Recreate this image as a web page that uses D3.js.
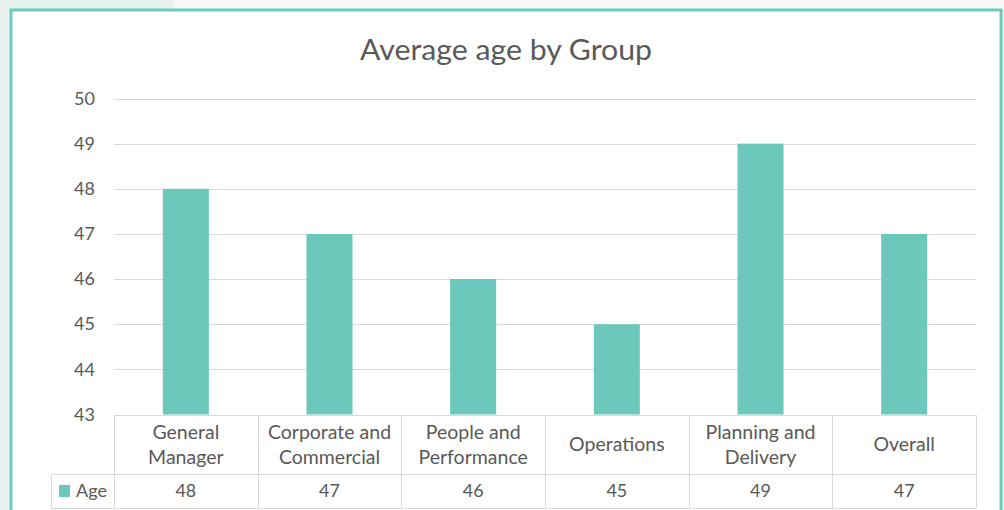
<!DOCTYPE html>
<html><head><meta charset="utf-8">
<script src="https://cdn.jsdelivr.net/npm/d3@7"></script>
<style>
html,body{margin:0;padding:0;background:#f8f8f8;}
svg{display:block;}
</style></head>
<body>
<script>
const categories = [["General","Manager"],["Corporate and","Commercial"],["People and","Performance"],["Operations"],["Planning and","Delivery"],["Overall"]];
const ages = [48, 47, 46, 45, 49, 47];
const seriesName = "Age";
const yTicks = [43, 44, 45, 46, 47, 48, 49, 50];
const title = "Average age by Group";

(function(){
const W = 1004, H = 510;
const font = "Lato, 'Open Sans', sans-serif";
const fs = 18;
const fsCat = 19.5;
const textColor = "#595959";
const barColor = "#6cc8ba";
const svg = d3.select("body").append("svg").attr("width", W).attr("height", H);

svg.append("rect").attr("x",0).attr("y",0).attr("width",W).attr("height",H).attr("fill","#f8f8f8");
svg.append("rect").attr("x",0).attr("y",0).attr("width",174).attr("height",H).attr("fill","#e6f3f0");
svg.append("rect").attr("x",0).attr("y",10).attr("width",W).attr("height",H).attr("fill","#e6f3f0");
svg.append("rect").attr("x",11).attr("y",10).attr("width",990).attr("height",H).attr("fill","#ffffff")
  .attr("stroke","#6ecbbc").attr("stroke-width",3);

const pLeft = 114, pRight = 976, pTop = 98.5, pBottom = 414.5;
const x = d3.scaleBand().domain(d3.range(categories.length)).range([pLeft, pRight]).paddingInner(0).paddingOuter(0);
const y = d3.scaleLinear().domain([43, 50]).range([pBottom, pTop]);

// gridlines
svg.append("g").selectAll("line").data(yTicks).join("line")
  .attr("x1", pLeft).attr("x2", pRight)
  .attr("y1", d => Math.round(y(d))+0.5).attr("y2", d => Math.round(y(d))+0.5)
  .attr("stroke", "#d9d9d9").attr("stroke-width", 1);

// y axis labels
const yAxis = d3.axisLeft(y).tickValues(yTicks).tickFormat(d3.format("d")).tickSize(0).tickPadding(0);
const ya = svg.append("g").attr("transform", `translate(${95},0)`).call(yAxis);
ya.select(".domain").remove();
ya.selectAll("text").attr("font-family", font).attr("font-size", fs).attr("fill", textColor);

// bars
const bw = 46;
svg.append("g").selectAll("rect").data(ages).join("rect")
  .attr("x", (d,i) => x(i) + x.bandwidth()/2 - bw/2)
  .attr("width", bw)
  .attr("y", d => y(d))
  .attr("height", d => y(43) - y(d))
  .attr("fill", barColor);

// title
svg.append("text").attr("x", 506).attr("y", 60).attr("text-anchor","middle")
  .attr("font-family", font).attr("font-size", 29).attr("fill", textColor)
  .attr("textLength", 292).attr("lengthAdjust","spacingAndGlyphs")
  .text(title);

// data table
const tTop = 415, tMid = 474, tBot = 508, tLeft = 51;
const g = svg.append("g").attr("stroke", "#d9d9d9").attr("stroke-width", 1).attr("shape-rendering","crispEdges");
g.append("line").attr("x1", pLeft).attr("x2", pRight).attr("y1", tTop).attr("y2", tTop);
g.append("line").attr("x1", tLeft).attr("x2", pRight).attr("y1", tMid).attr("y2", tMid);
g.append("line").attr("x1", tLeft).attr("x2", pRight).attr("y1", tBot).attr("y2", tBot);
g.append("line").attr("x1", tLeft).attr("x2", tLeft).attr("y1", tMid).attr("y2", tBot);
const vlines = d3.range(categories.length + 1).map(i => i < categories.length ? x(i) : pRight);
g.selectAll(".v").data(vlines).join("line").attr("class","v")
  .attr("x1", d => Math.round(d)).attr("x2", d => Math.round(d)).attr("y1", tTop).attr("y2", tBot);

const cat = svg.append("g").selectAll("text").data(categories).join("text")
  .attr("text-anchor","middle").attr("font-family", font).attr("font-size", fsCat).attr("fill", textColor)
  .attr("x", (d,i) => x(i) + x.bandwidth()/2)
  .attr("y", d => d.length === 1 ? 451 : 439);
cat.selectAll("tspan").data(d => d).join("tspan")
  .attr("x", function(){ return d3.select(this.parentNode).attr("x"); })
  .attr("dy", (d,i) => i === 0 ? 0 : 24.5).text(d => d);

svg.append("g").selectAll("text").data(ages).join("text")
  .attr("text-anchor","middle").attr("font-family", font).attr("font-size", fs).attr("fill", textColor)
  .attr("x", (d,i) => x(i) + x.bandwidth()/2).attr("y", 497).text(d => d);

svg.append("rect").attr("x", 59).attr("y", 485).attr("width", 11).attr("height", 12).attr("fill", barColor);
svg.append("text").attr("x", 76).attr("y", 497).attr("font-family", font).attr("font-size", fs).attr("fill", textColor).text(seriesName);
})();
</script>
</body></html>
